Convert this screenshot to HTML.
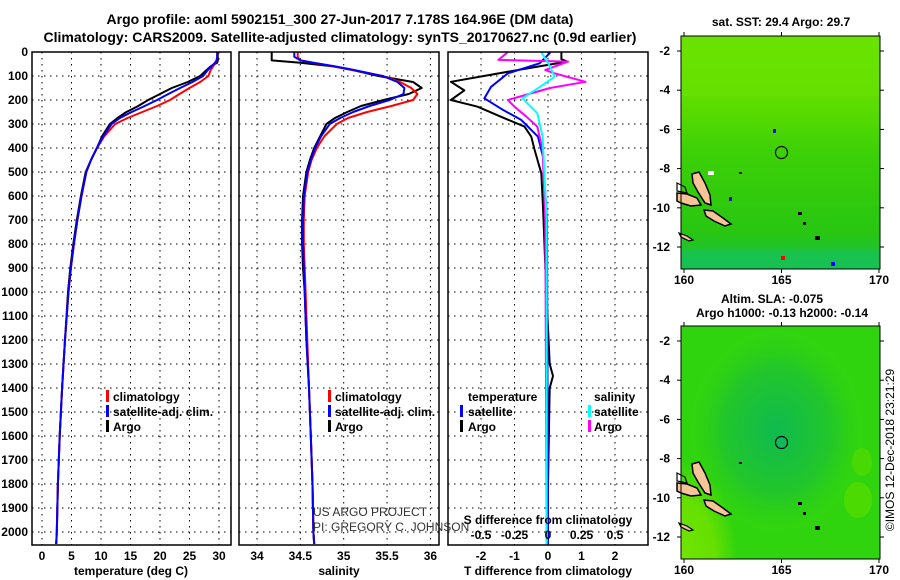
<!DOCTYPE html>
<html><head><meta charset="utf-8"><style>
html,body{margin:0;padding:0;background:#fff;}
svg{display:block;font-family:"Liberation Sans",sans-serif;}
.b{font-weight:bold;}
</style></head><body>
<svg id="fig" width="900" height="580" viewBox="0 0 900 580">
<defs>
<clipPath id="c1"><rect x="32" y="52" width="199" height="493"/></clipPath>
<clipPath id="c2"><rect x="239" y="52" width="200" height="493"/></clipPath>
<clipPath id="c3"><rect x="448" y="52" width="200" height="493"/></clipPath>
<linearGradient id="sstG" x1="0" y1="0" x2="0" y2="1">
<stop offset="0" stop-color="#6ae200"/><stop offset="0.3" stop-color="#5cdc00"/>
<stop offset="0.5" stop-color="#3cd006"/><stop offset="0.85" stop-color="#28c612"/><stop offset="1" stop-color="#14c050"/>
</linearGradient>
<radialGradient id="slaC" cx="0.48" cy="0.45" r="0.45">
<stop offset="0" stop-color="#10ba50"/><stop offset="0.6" stop-color="#22c62a"/><stop offset="1" stop-color="#30d410" stop-opacity="0"/>
</radialGradient>
<radialGradient id="slaL" cx="0" cy="1" r="0.7">
<stop offset="0" stop-color="#70e400"/><stop offset="0.6" stop-color="#66e000"/><stop offset="1" stop-color="#66e000" stop-opacity="0"/>
</radialGradient>
<g id="islands">
<polygon points="11,139 18,137 24,148 29,160 30,170 24,168 17,157 12,148" fill="#f6c496" stroke="#000" stroke-width="1.5"/>
<polygon points="-4,158 6,159 16,163 20,170 10,171 0,168 -4,166" fill="#f6c496" stroke="#000" stroke-width="1.5"/>
<polygon points="23,175 32,176 42,183 50,189 44,191 33,186 25,181" fill="#f6c496" stroke="#000" stroke-width="1.5"/>
<polygon points="-2,198 6,201 12,205 8,206 0,202" fill="#f6c496" stroke="#000" stroke-width="1.2"/>
<polygon points="-4,148 4,152 6,158 -4,156" fill="none" stroke="#000" stroke-width="1.2"/>
<rect x="117" y="177" width="4" height="3" fill="#000"/><rect x="122" y="187" width="3" height="3" fill="#000"/>
<rect x="134" y="201" width="5" height="4" fill="#000"/><rect x="58" y="137" width="3" height="2" fill="#000"/>
</g>
</defs>

<g id="titles" class="b" font-size="14" text-anchor="middle">
<text x="340" y="24">Argo profile: aoml 5902151_300 27-Jun-2017 7.178S 164.96E (DM data)</text>
<text x="340" y="42">Climatology: CARS2009. Satellite-adjusted climatology: synTS_20170627.nc (0.9d earlier)</text>
</g>

<g id="grids"></g>
<g id="series"></g>
<g id="axes"></g>

<g class="b" font-size="12">
<rect x="106" y="390" width="3" height="12" fill="#f00"/><text x="113" y="401">climatology</text>
<rect x="106" y="405" width="3" height="12" fill="#00f"/><text x="113" y="416">satellite-adj. clim.</text>
<rect x="106" y="420" width="3" height="12" fill="#000"/><text x="113" y="431">Argo</text>
</g>
<g class="b" font-size="12">
<rect x="328" y="390" width="3" height="12" fill="#f00"/><text x="335" y="401">climatology</text>
<rect x="328" y="405" width="3" height="12" fill="#00f"/><text x="335" y="416">satellite-adj. clim.</text>
<rect x="328" y="420" width="3" height="12" fill="#000"/><text x="335" y="431">Argo</text>
</g>
<g class="b" font-size="12">
<text x="468" y="401">temperature</text><text x="594" y="401">salinity</text>
<rect x="460" y="405" width="3" height="12" fill="#00f"/><text x="468" y="416">satellite</text>
<rect x="460" y="420" width="3" height="12" fill="#000"/><text x="468" y="431">Argo</text>
<rect x="588" y="405" width="3" height="12" fill="#0ff"/><text x="594" y="416">satellite</text>
<rect x="588" y="420" width="3" height="12" fill="#f0f"/><text x="594" y="431">Argo</text>
</g>
<g font-size="12" fill="#333">
<text x="313" y="516">US ARGO PROJECT</text>
<text x="313" y="531">PI: GREGORY C. JOHNSON</text>
</g>
<g class="b" font-size="12">
<text x="548" y="524" text-anchor="middle">S difference from climatology</text>
<g text-anchor="middle" id="sdiffticks"></g>
</g>

<!-- Maps -->
<g>
<rect x="681" y="36" width="199" height="233" fill="url(#sstG)"/>
<rect x="681" y="36" width="199" height="60" fill="#6ae200" opacity="0.6"/>
<rect x="681" y="250" width="199" height="19" fill="#18c25a" opacity="0.6"/>
<rect x="708" y="171" width="6" height="4" fill="#fff"/>
<rect x="773" y="129" width="3" height="4" fill="#00f"/><rect x="729" y="197" width="3" height="4" fill="#00f"/>
<rect x="781" y="256" width="4" height="4" fill="#f00"/><rect x="831" y="262" width="4" height="4" fill="#00f"/>
<g transform="translate(681,35)"><use href="#islands"/></g>
<circle cx="781.5" cy="152.5" r="6" fill="none" stroke="#000" stroke-width="1.2"/>
<rect x="681" y="36" width="199" height="233" fill="none" stroke="#000"/>
</g>
<g>
<rect x="681" y="326" width="199" height="233" fill="#30d40e"/>
<rect x="681" y="326" width="199" height="233" fill="url(#slaC)"/>
<rect x="681" y="420" width="80" height="139" fill="url(#slaL)"/>
<ellipse cx="858" cy="500" rx="14" ry="18" fill="#52dc00" opacity="0.8"/>
<ellipse cx="862" cy="462" rx="10" ry="14" fill="#52dc00" opacity="0.7"/>
<g transform="translate(681,325)"><use href="#islands"/></g>
<circle cx="781.5" cy="442.5" r="6" fill="#10b860" stroke="#000" stroke-width="1.2"/>
<rect x="681" y="326" width="199" height="233" fill="none" stroke="#000"/>
</g>
<g id="mapaxes" class="b" font-size="12"></g>
<g class="b" font-size="12" text-anchor="middle">
<text x="781" y="26">sat. SST: 29.4 Argo: 29.7</text>
<text x="772" y="303">Altim. SLA: -0.075</text>
<text x="782" y="317">Argo h1000: -0.13 h2000: -0.14</text>
</g>
<text transform="translate(894,450) rotate(-90)" text-anchor="middle" font-size="12">©IMOS 12-Dec-2018 23:21:29</text>

<script>
// ---- data ----
const depth = [0,20,35,45,60,75,100,125,150,175,200,225,250,275,300,350,400,450,500,600,700,800,900,1000,1200,1400,1600,1800,2000,2050];
const tClim = [29.7,29.7,29.6,29.4,29.0,28.6,28.2,26.8,25.0,23.3,21.7,19.5,17.0,14.5,12.4,10.6,9.3,8.3,7.5,6.7,6.0,5.4,4.9,4.5,3.9,3.4,3.0,2.7,2.5,2.4];
const tSat = [29.7,29.7,29.6,29.3,28.7,28.1,27.3,25.5,23.4,21.4,19.5,17.4,15.2,13.2,11.8,10.4,9.3,8.3,7.5,6.7,6.0,5.4,4.9,4.5,3.9,3.4,3.0,2.7,2.5,2.4];
const tArgo = [29.8,29.8,29.8,29.7,28.6,27.9,26.8,24.7,22.0,20.0,18.0,16.3,14.3,12.8,11.5,10.2,9.3,8.3,7.4,6.6,5.9,5.3,4.8,4.4,3.9,3.4,3.0,2.7,2.5,2.4];
const sClim = [34.47,34.47,34.5,34.65,34.88,35.1,35.45,35.65,35.78,35.85,35.8,35.55,35.27,35.05,34.92,34.78,34.69,34.63,34.59,34.55,34.54,34.54,34.55,34.56,34.58,34.6,34.62,34.64,34.65,34.66];
const sSat = [34.43,34.43,34.5,34.66,34.9,35.12,35.45,35.62,35.7,35.69,35.53,35.3,35.11,34.96,34.84,34.74,34.67,34.62,34.58,34.54,34.53,34.53,34.54,34.55,34.57,34.6,34.62,34.64,34.65,34.66];
const sArgo = [34.17,34.17,34.17,34.5,34.88,35.1,35.4,35.8,35.9,35.75,35.46,35.2,35.04,34.9,34.8,34.73,34.66,34.61,34.57,34.53,34.52,34.52,34.53,34.55,34.57,34.6,34.62,34.64,34.65,34.66];
const tdArgoDepth = [0,30,40,75,124,160,200,228,270,311,353,408,505,645,1000,1300,1350,1400,1800,2050];
const tdArgo = [0.4,0.4,0.57,-0.9,-2.9,-2.5,-2.9,-2.1,-1.4,-0.7,-0.5,-0.4,-0.2,-0.15,-0.05,0.05,0.15,0.05,0,0];
const tdSatDepth = [0,5,47,89,145,193,241,283,353,436,700,2050];
const tdSat = [0.05,0.05,-0.25,-1.2,-1.7,-1.9,-1.35,-0.8,-0.3,-0.15,-0.03,0];
const sdArgoDepth = [0,5,33,40,75,89,124,150,200,228,270,311,408,700,2050];
const sdArgo = [-0.3,-0.31,-0.37,0.15,-0.02,0.05,0.28,0.015,-0.3,-0.25,-0.16,-0.08,-0.04,-0.02,-0.01];
const sdSatDepth = [0,5,61,103,145,193,255,353,700,2050];
const sdSat = [-0.04,-0.045,0.015,0.05,-0.06,-0.19,-0.08,-0.04,-0.01,-0.01];
const depthTicks = [0,100,200,300,400,500,600,700,800,900,1000,1100,1200,1300,1400,1500,1600,1700,1800,1900,2000];
const tTicks = [0,5,10,15,20,25,30];
const sTicks = [34,34.5,35,35.5,36];
const dTicks = [-2,-1,0,1,2];
const sdTicks = [-0.5,-0.25,0,0.25,0.5];
const lonTicks = [160,165,170];
const latTicks = [-2,-4,-6,-8,-10,-12];

// ---- scales ----
const yD = d => 52 + d*0.24;
const xT = t => 42 + t*5.9;
const xS = s => 257 + (s-34)*86.7;
const xTd = v => 548 + v*33.5;
const xSd = v => 548 + v*134;
const xLon = l => 684 + (l-160)*19.5;
const yLat = (la,off) => off + 51 + (-2-la)*19.6;

const NS='http://www.w3.org/2000/svg';
function mk(tag, parent){ const e=document.createElementNS(NS,tag); document.getElementById(parent).appendChild(e); return e; }
function line(parent,x1,y1,x2,y2,stroke,dash){
  const e=mk('line',parent);
  e.setAttribute('x1',x1);e.setAttribute('y1',y1);e.setAttribute('x2',x2);e.setAttribute('y2',y2);
  e.setAttribute('stroke',stroke);e.setAttribute('stroke-width',1);
  if(dash) e.setAttribute('stroke-dasharray',dash);
  return e;
}
function txt(parent,x,y,s,anchor){
  const e=mk('text',parent);
  e.setAttribute('x',x);e.setAttribute('y',y);e.textContent=s;
  e.setAttribute('text-anchor',anchor||'middle');
  return e;
}
const panels=[{x0:32,x1:231,clip:'c1'},{x0:239,x1:439,clip:'c2'},{x0:448,x1:648,clip:'c3'}];

// grids
depthTicks.forEach(d=>{ panels.forEach(p=>{
  const g=line('grids',p.x0,yD(d),p.x1,yD(d),'#000','1.5,4.5');
  
  
});});
tTicks.forEach(t=>{ const g=line('grids',xT(t),52,xT(t),545,'#000','1.5,4.5');
  
   });
sTicks.forEach(s=>{ const g=line('grids',xS(s),52,xS(s),545,'#000','1.5,4.5');
  
   });
dTicks.forEach(v=>{ const g=line('grids',xTd(v),52,xTd(v),545,'#000','1.5,4.5');
  
   });

// series
function poly(vals,deps,xf,color,clip,name,w){
  const e=mk('polyline','series');
  e.setAttribute('points',vals.map((v,i)=>xf(v).toFixed(1)+','+yD(deps[i]).toFixed(1)).join(' '));
  e.setAttribute('fill','none');e.setAttribute('stroke',color);e.setAttribute('stroke-width',w||2);
  e.setAttribute('stroke-linejoin','round');
  e.setAttribute('clip-path','url(#'+clip+')');
  
  
}
poly(tArgo,depth,xT,'#000','c1','temperature-argo-line');
poly(tClim,depth,xT,'#f00','c1','temperature-climatology-line');
poly(tSat,depth,xT,'#00f','c1','temperature-satellite-line');
poly(sArgo,depth,xS,'#000','c2','salinity-argo-line');
poly(sClim,depth,xS,'#f00','c2','salinity-climatology-line');
poly(sSat,depth,xS,'#00f','c2','salinity-satellite-line');
poly(tdArgo,tdArgoDepth,xTd,'#000','c3','tdiff-argo-line');
poly(tdSat,tdSatDepth,xTd,'#00f','c3','tdiff-satellite-line');
poly(sdArgo,sdArgoDepth,xSd,'#f0f','c3','sdiff-argo-line');
poly(sdSat,sdSatDepth,xSd,'#0ff','c3','sdiff-satellite-line');

// axes boxes
panels.forEach((p,i)=>{
  const r=mk('rect','axes');
  r.setAttribute('x',p.x0);r.setAttribute('y',52);r.setAttribute('width',p.x1-p.x0);r.setAttribute('height',493);
  r.setAttribute('fill','none');r.setAttribute('stroke','#000');r.setAttribute('stroke-width',1.5);
  
  
});
const ax=document.getElementById('axes');
ax.setAttribute('font-size','12');ax.setAttribute('font-weight','bold');
depthTicks.forEach(d=>{
  const t=txt('axes',28,yD(d)+4,String(d),'end');
  
  
});
tTicks.forEach(v=>{ const t=txt('axes',xT(v),560,String(v));
  
   });
sTicks.forEach(v=>{ const t=txt('axes',xS(v),560,String(v));
  
   });
dTicks.forEach(v=>{ const t=txt('axes',xTd(v),560,String(v));
  
   });
sdTicks.forEach(v=>{ const t=txt('sdiffticks',xSd(v),539,String(v));
  
   });
[['temperature (deg C)',131,'temperature-axis-title'],['salinity',339,'salinity-axis-title'],['T difference from climatology',548,'tdiff-axis-title']].forEach(a=>{
  const t=txt('axes',a[1],575,a[0]);
  
  
});

// map axes
[0,290].forEach(off=>{
  lonTicks.forEach(l=>{
    const t=txt('mapaxes',xLon(l),off+284,String(l));
    
    
    line('mapaxes',xLon(l),off+32,xLon(l),off+36,'#000');
    line('mapaxes',xLon(l),off+269,xLon(l),off+273,'#000');
  });
  latTicks.forEach(la=>{
    const t=txt('mapaxes',670,yLat(la,off)+4,String(la),'end');
    
    
    line('mapaxes',677,yLat(la,off),681,yLat(la,off),'#000');
    line('mapaxes',880,yLat(la,off),884,yLat(la,off),'#000');
  });
});
</script>
</svg>
</body></html>
